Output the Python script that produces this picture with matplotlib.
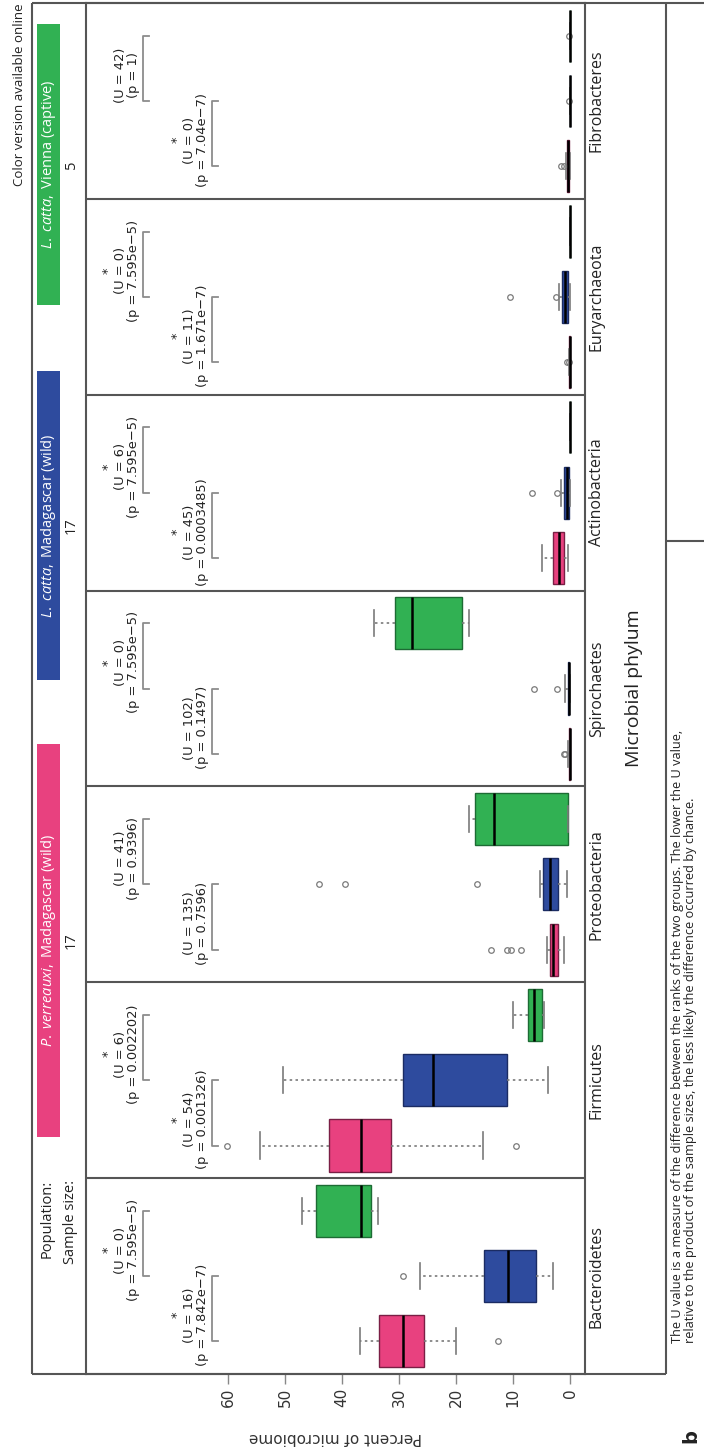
import matplotlib.pyplot as plt
from matplotlib.patches import Rectangle
from matplotlib.transforms import blended_transform_factory

phyla = ["Bacteroidetes", "Firmicutes", "Proteobacteria", "Spirochaetes",
         "Actinobacteria", "Euryarchaeota", "Fibrobacteres"]
species = ["P. verreauxi", "L. catta", "L. catta"]
origin = ["Madagascar (wild)", "Madagascar (wild)", "Vienna (captive)"]
sample_sizes = [17, 17, 5]
colors = ["#E8417F", "#2E4B9E", "#31B153"]
edges = ["#7a1f45", "#1b2c63", "#1d6b34"]

# box summaries per phylum (percent of microbiome)
pv_q1 = [25.6, 31.4, 2.1, 0.0, 1.05, 0.0, 0.15]
pv_med = [29.3, 36.6, 2.9, 0.05, 2.0, 0.05, 0.3]
pv_q3 = [33.5, 42.3, 3.5, 0.2, 2.9, 0.1, 0.6]
pv_lo = [20.0, 15.3, 1.1, 0.0, 0.35, 0.0, 0.0]
pv_hi = [36.8, 54.3, 4.0, 0.3, 4.9, 0.15, 0.7]
pv_out = [[12.6], [9.4, 60.2], [8.6, 10.4, 11.0, 13.9], [0.9, 1.1], [], [0.2, 0.5], [1.05, 1.6]]

lc_q1 = [6.0, 11.0, 2.1, 0.1, 0.2, 0.35, 0.0]
lc_med = [10.9, 24.0, 3.5, 0.2, 0.5, 0.8, 0.0]
lc_q3 = [15.1, 29.3, 4.7, 0.4, 1.1, 1.4, 0.0]
lc_lo = [3.0, 3.9, 0.5, 0.0, 0.0, 0.0, 0.0]
lc_hi = [26.4, 50.4, 5.3, 0.8, 1.6, 1.9, 0.0]
lc_out = [[29.3], [], [16.3, 39.4, 44.0], [2.3, 6.3], [2.3, 6.7], [2.5, 10.5], [0.15]]

lv_q1 = [34.9, 4.9, 0.35, 18.9, 0.0, 0.0, 0.0]
lv_med = [36.7, 6.3, 13.3, 27.8, 0.0, 0.0, 0.0]
lv_q3 = [44.6, 7.4, 16.7, 30.7, 0.0, 0.0, 0.0]
lv_lo = [33.7, 4.6, 0.3, 17.7, 0.0, 0.0, 0.0]
lv_hi = [47.0, 10.0, 17.7, 34.4, 0.0, 0.0, 0.0]
lv_out = [[], [], [], [], [], [], [0.15]]

# Mann-Whitney results: P. verreauxi vs L. catta (wild), L. catta (wild) vs L. catta (captive)
u_pv_lc = [16, 54, 135, 102, 45, 11, 0]
p_pv_lc = [7.842e-7, 0.001326, 0.7596, 0.1497, 0.0003485, 1.671e-7, 7.04e-7]
u_lc_lv = [0, 6, 41, 0, 6, 0, 42]
p_lc_lv = [7.595e-5, 0.002202, 0.9396, 7.595e-5, 7.595e-5, 7.595e-5, 1]

value_ticks = [0, 10, 20, 30, 40, 50, 60]

plt.rcParams.update({
    "font.family": "DejaVu Sans",
    "mathtext.fontset": "custom",
    "mathtext.rm": "Open Sans",
    "mathtext.it": "Open Sans:italic",
})

W, H = 704, 1448
FRAME = "#555555"


def fmt_p(p):
    s = "{:.4g}".format(p)
    return s.replace("e-0", "e\u2212").replace("e-", "e\u2212")


fig = plt.figure(figsize=(W / 100, H / 100), dpi=100)

# main panel strip, drawn sideways: value along x (reversed), phyla along y
ax = fig.add_axes([86 / W, 1 - 1374 / H, (585 - 86) / W, (1374 - 3) / H])
ax.set_xlim(84.9, -2.63)
ax.set_ylim(-0.5, 3 * len(phyla) - 0.5)

groups = [
    (pv_q1, pv_med, pv_q3, pv_lo, pv_hi, pv_out),
    (lc_q1, lc_med, lc_q3, lc_lo, lc_hi, lc_out),
    (lv_q1, lv_med, lv_q3, lv_lo, lv_hi, lv_out),
]
for g, (q1, med, q3, lo, hi, out) in enumerate(groups):
    stats = [dict(q1=q1[i], med=med[i], q3=q3[i], whislo=lo[i], whishi=hi[i], fliers=out[i])
             for i in range(len(phyla))]
    pos = [3 * i + g for i in range(len(phyla))]
    ax.bxp(stats, positions=pos, widths=0.8, orientation="horizontal",
           patch_artist=True, manage_ticks=False,
           boxprops=dict(facecolor=colors[g], edgecolor=edges[g], linewidth=1.0),
           medianprops=dict(color="black", linewidth=1.8),
           whiskerprops=dict(color="#7a7a7a", linewidth=1.2, linestyle=(0, (1.5, 2))),
           capprops=dict(color="#7a7a7a", linewidth=1.2),
           flierprops=dict(marker="o", markerfacecolor="none", markeredgecolor="#7a7a7a",
                           markersize=4, markeredgewidth=0.9))

# significance brackets and U / p labels
for i in range(len(phyla)):
    pairs = [(3 * i, 3 * i + 1, 62.8, u_pv_lc[i], p_pv_lc[i]),
             (3 * i + 1, 3 * i + 2, 74.9, u_lc_lv[i], p_lc_lv[i])]
    for a, b, lev, u, p in pairs:
        ax.plot([lev - 1.0, lev, lev, lev - 1.0], [a, a, b, b], color="#8c8c8c", lw=1.3)
        label = f"(U = {u})\n(p = {fmt_p(p)})"
        if p < 0.05:
            label = "*\n" + label
        ax.text(lev + 0.5, (a + b) / 2 - 0.1, label, rotation=90, ha="right", va="center",
                multialignment="center", fontsize=9.4, color="#222222", linespacing=1.0)

for k in range(1, len(phyla)):
    ax.axhline(3 * k - 0.5, color=FRAME, lw=1.5)

ax.set_yticks([])
ax.set_xticks(value_ticks)
ax.tick_params(axis="x", length=7, width=1, color="#888888", labelsize=11,
               labelrotation=90, labelcolor="#333333", pad=3)
for sp in ax.spines.values():
    sp.set_color(FRAME)
    sp.set_linewidth(1.5)
ax.set_xlabel("Percent of microbiome", rotation=180, fontsize=11, color="#333333", va="center")
ax.xaxis.set_label_coords(0.5, -0.046)

# overlay in pixel units for the frame, header and labels
ov = fig.add_axes([0, 0, 1, 1], facecolor="none")
ov.set_xlim(0, W)
ov.set_ylim(H, 0)
ov.axis("off")
for xs, ys in [([32, 32], [3, 1374]), ([32, W], [3, 3]), ([32, 666], [1374, 1374]),
               ([666, 666], [3, 1374]), ([666, W], [541, 541])]:
    ov.plot(xs, ys, color=FRAME, lw=1.5, solid_capstyle="butt", clip_on=False)

# population header bars
bar_spans = [(744, 1137), (371, 680), (24, 305)]
for g in range(3):
    y0, y1 = bar_spans[g]
    ov.add_patch(Rectangle((37, y0), 23, y1 - y0, facecolor=colors[g], edgecolor="none"))
    name = species[g].replace(" ", r"\ ")
    ov.text(49, (y0 + y1) / 2, rf"$\mathit{{{name},}}$ {origin[g]}", rotation=90,
            ha="center", va="center", color="white", family="Open Sans", fontsize=10.5)
    ov.text(71, (y0 + y1) / 2, str(sample_sizes[g]), rotation=90, ha="center", va="center",
            family="Open Sans", fontsize=10.5, color="#222222")

ov.text(47, 1180, "Population:", rotation=90, ha="center", va="top",
        family="Open Sans", fontsize=10.5, color="#222222")
ov.text(71, 1180, "Sample size:", rotation=90, ha="center", va="top",
        family="Open Sans", fontsize=10.5, color="#222222")
ov.text(20, 3, "Color version available online", rotation=90, ha="center", va="top",
        family="Open Sans", fontsize=9.5, color="#222222")

# phylum names beside each panel
lab_tr = blended_transform_factory(ov.transData, ax.transData)
for i, name in enumerate(phyla):
    ax.text(597, 3 * i + 1, name, transform=lab_tr, rotation=90, ha="center", va="center",
            family="Open Sans", fontsize=11.5, color="#222222", clip_on=False)
ov.text(634, 688, "Microbial phylum", rotation=90, ha="center", va="center",
        family="Open Sans", fontsize=14, color="#222222")

ov.text(671, 1343,
        "The U value is a measure of the difference between the ranks of the two groups. "
        "The lower the U value,\nrelative to the product of the sample sizes, "
        "the less likely the difference occurred by chance.",
        rotation=90, ha="left", va="bottom", multialignment="left", linespacing=1.0,
        family="Open Sans", fontsize=9.2, color="#222222")

ov.text(691, 1436, "b", rotation=90, ha="center", va="center", fontweight="bold",
        fontsize=14, color="#222222")

fig.savefig("out.png", dpi=100)
